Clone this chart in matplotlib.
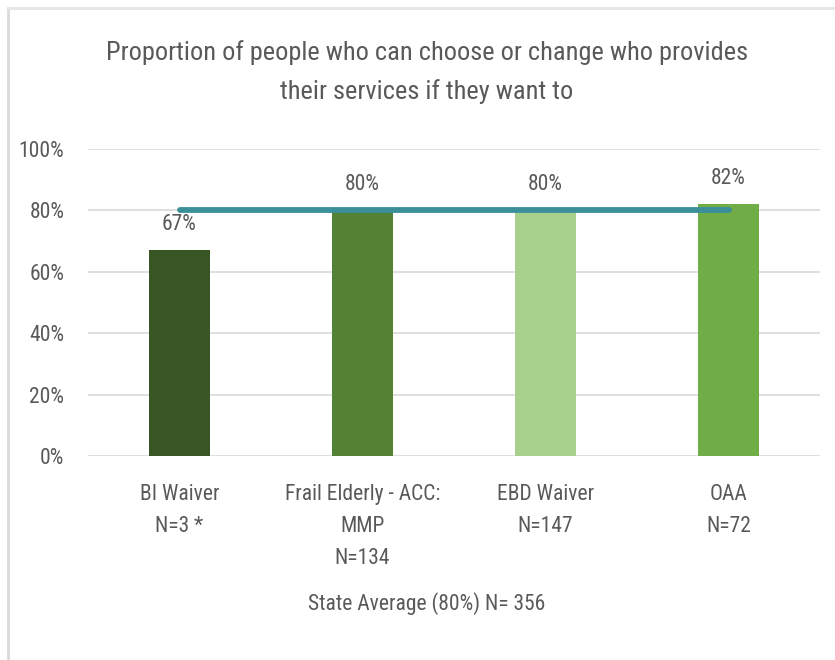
import matplotlib
matplotlib.use("Agg")
import matplotlib.pyplot as plt
from matplotlib.lines import Line2D

categories = ["BI Waiver\nN=3 *", "Frail Elderly - ACC:\nMMP\nN=134", "EBD Waiver\nN=147", "OAA\nN=72"]
values = [67, 80, 80, 82]
bar_colors = ["#375623", "#548235", "#A9D18E", "#70AD47"]
state_average = 80
yticks = [0, 20, 40, 60, 80, 100]
title = "Proportion of people who can choose or change who provides\ntheir services if they want to"
footnote = "State Average (80%) N= 356"

plt.rcParams["font.family"] = ["Roboto Condensed", "DejaVu Sans"]
text_color = "#595959"

fig = plt.figure(figsize=(8.35, 6.6), dpi=100)
ax = fig.add_axes([88 / 835, 1 - 456 / 660, (820 - 88) / 835, (456 - 149) / 660])

x = list(range(len(categories)))
ax.bar(x, values, width=0.335, color=bar_colors, zorder=2)
ax.plot([x[0], x[-1]], [state_average] * 2, color="#3A8F99", lw=4.2,
        solid_capstyle="round", zorder=4)

for xi, v in zip(x, values):
    ax.text(xi, v + 5.0, f"{v}%", ha="center", va="bottom", fontsize=15.5,
            color=text_color, zorder=3,
            bbox=dict(facecolor="white", edgecolor="none", pad=1.5))

ax.set_xlim(-0.5, 3.5)
ax.set_ylim(0, 100)
ax.set_yticks(yticks)
ax.set_yticklabels([f"{t}%" for t in yticks], fontsize=15.5, color=text_color)
ax.set_xticks(x)
ax.set_xticklabels(categories, fontsize=15.5, color=text_color, linespacing=1.7)
ax.tick_params(axis="y", length=0, pad=17)
ax.tick_params(axis="x", length=0, pad=20)
ax.yaxis.grid(True, color="#D9D9D9", lw=1.2, zorder=0)
ax.set_axisbelow(True)
for s in ax.spines.values():
    s.set_visible(False)

fig.text(427 / 835, 1 - 72 / 660, title, ha="center", va="center", fontsize=19,
         color=text_color, linespacing=1.72)
fig.text(427 / 835, 1 - 604 / 660, footnote, ha="center", va="center", fontsize=15.5,
         color=text_color)

# outer frame lines
fig.add_artist(Line2D([8 / 835, 8 / 835], [0, 1 - 8 / 660], transform=fig.transFigure,
                      color="#D9D9D9", lw=2))
fig.add_artist(Line2D([8 / 835, 1], [1 - 8 / 660, 1 - 8 / 660], transform=fig.transFigure,
                      color="#E6E6E6", lw=2))

fig.savefig("out.png", dpi=100, facecolor="white")
